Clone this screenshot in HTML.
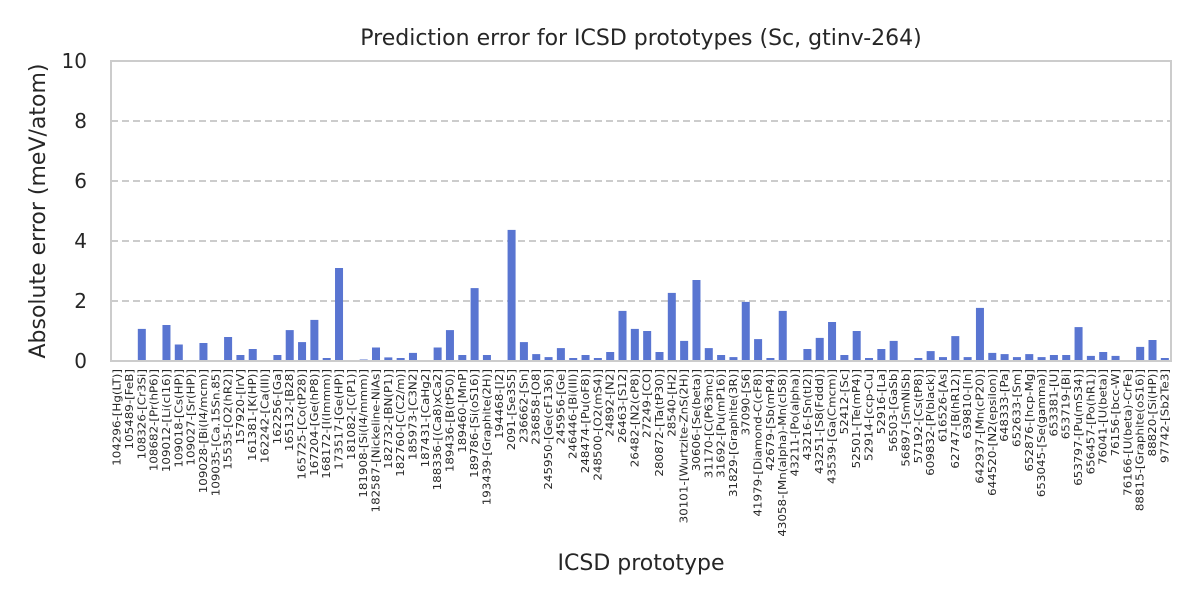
<!DOCTYPE html>
<html><head><meta charset="utf-8"><style>
body{margin:0;background:#fff;}
svg text{font-family:"DejaVu Sans","Liberation Sans",sans-serif;fill:#262626;}
</style></head><body>
<svg id="chart" width="1200" height="600" viewBox="0 0 1200 600" xmlns="http://www.w3.org/2000/svg">
<rect width="1200" height="600" fill="#fff"/>
<text x="641" y="45" font-size="22" text-anchor="middle">Prediction error for ICSD prototypes (Sc, gtinv-264)</text>
<text x="641" y="570" font-size="22" text-anchor="middle">ICSD prototype</text>
<text transform="translate(45,211) rotate(-90)" font-size="22" text-anchor="middle">Absolute error (meV/atom)</text>
<g id="grid"></g><g id="bars"></g><g id="yticks"></g><g id="xticks"></g>
<rect x="111" y="61" width="1060" height="300" fill="none" stroke="#cccccc" stroke-width="2"/>
</svg>
<script>
const categories=["104296-[Hg(LT)]","105489-[FeB]","108326-[Cr3Si]","108682-[Pr(hP6)]","109012-[Li(cI16)]","109018-[Cs(HP)]","109027-[Sr(HP)]","109028-[Bi(I4/mcm)]","109035-[Ca.15Sn.85]","15535-[O2(hR2)]","157920-[IrV]","161381-[K(HP)]","162242-[Ca(III)]","162256-[Ga]","165132-[B28]","165725-[Co(tP28)]","167204-[Ge(hP8)]","168172-[I(Immm)]","173517-[Ge(HP)]","181082-[C(P1)]","181908-[Si(I4/mmm)]","182587-[Nickeline-NiAs]","182732-[BN(P1)]","182760-[C(C2/m)]","185973-[C3N2]","187431-[CaHg2]","188336-[(Ca8)xCa2]","189436-[B(tP50)]","189460-[MnP]","189786-[Si(oS16)]","193439-[Graphite(2H)]","194468-[I2]","2091-[Se3S5]","236662-[Sn]","236858-[O8]","245950-[Ge(cF136)]","245956-[Ge]","246446-[Bi(III)]","248474-[Pu(oF8)]","248500-[O2(mS4)]","24892-[N2]","26463-[S12]","26482-[N2(cP8)]","27249-[CO]","280872-[Ta(tP30)]","28540-[H2]","30101-[Wurtzite-ZnS(2H)]","30606-[Se(beta)]","31170-[C(P63mc)]","31692-[Pu(mP16)]","31829-[Graphite(3R)]","37090-[S6]","41979-[Diamond-C(cF8)]","42679-[Sb(mP4)]","43058-[Mn(alpha)-Mn(cI58)]","43211-[Po(alpha)]","43216-[Sn(tI2)]","43251-[S8(Fddd)]","43539-[Ga(Cmcm)]","52412-[Sc]","52501-[Te(mP4)]","52914-[ccp-Cu]","52916-[La]","56503-[GaSb]","56897-[SmNiSb]","57192-[Cs(tP8)]","609832-[P(black)]","616526-[As]","62747-[B(hR12)]","639810-[In]","642937-[Mn(cP20)]","644520-[N2(epsilon)]","648333-[Pa]","652633-[Sm]","652876-[hcp-Mg]","653045-[Se(gamma)]","653381-[U]","653719-[Bi]","653797-[Pu(mS34)]","656457-[Po(hR1)]","76041-[U(beta)]","76156-[bcc-W]","76166-[U(beta)-CrFe]","88815-[Graphite(oS16)]","88820-[Si(HP)]","97742-[Sb2Te3]"];
const errors=[0,0,1.07,0,1.2,0.55,0,0.6,0,0.8,0.2,0.4,0,0.2,1.03,0.63,1.37,0.1,3.1,0,0.05,0.45,0.12,0.1,0.27,0,0.45,1.03,0.2,2.43,0.2,0,4.37,0.63,0.23,0.13,0.43,0.1,0.2,0.1,0.3,1.67,1.07,1.0,0.3,2.27,0.67,2.7,0.43,0.2,0.13,1.97,0.73,0.1,1.67,0,0.4,0.77,1.3,0.2,1.0,0.1,0.4,0.67,0,0.1,0.33,0.13,0.83,0.13,1.77,0.27,0.23,0.13,0.23,0.13,0.2,0.2,1.13,0.17,0.3,0.17,0,0.47,0.7,0.1];
const yTicks=[0,2,4,6,8,10];
const X0=111,X1=1171,Y0=361,Y1=61,YMAX=10;
const step=(X1-X0)/categories.length;
const xs=i=>X0+step*(i+0.5);
const ys=v=>Y0-(v/YMAX)*(Y0-Y1);
const NS="http://www.w3.org/2000/svg";
function mk(t,a){const e=document.createElementNS(NS,t);for(const k in a)e.setAttribute(k,a[k]);return e;}
const grid=document.getElementById('grid'),bars=document.getElementById('bars'),yt=document.getElementById('yticks'),xt=document.getElementById('xticks');
yTicks.forEach(v=>{
  if(v>0&&v<YMAX){const l=mk('line',{x1:X0,x2:X1,y1:ys(v),y2:ys(v),stroke:'#cccccc','stroke-width':2,'stroke-dasharray':'7,4'});
  
  
  grid.appendChild(l);}
  const t=mk('text',{x:87,y:ys(v)+7,'font-size':20,'text-anchor':'end'});t.textContent=v;
  
  
  yt.appendChild(t);
});
const bw=step*0.65;
errors.forEach((v,i)=>{
  const r=mk('rect',{x:xs(i)-bw/2,y:ys(v),width:bw,height:Y0-ys(v),fill:'#5975d1'});
  
  
  bars.appendChild(r);
});
categories.forEach((c,i)=>{
  const t=mk('text',{transform:`translate(${xs(i)+3.5},369) rotate(-90) scale(1.12,1)`,'font-size':10.6,'text-anchor':'end'});
  t.textContent=c;
  
  
  xt.appendChild(t);
});
</script>
</body></html>
